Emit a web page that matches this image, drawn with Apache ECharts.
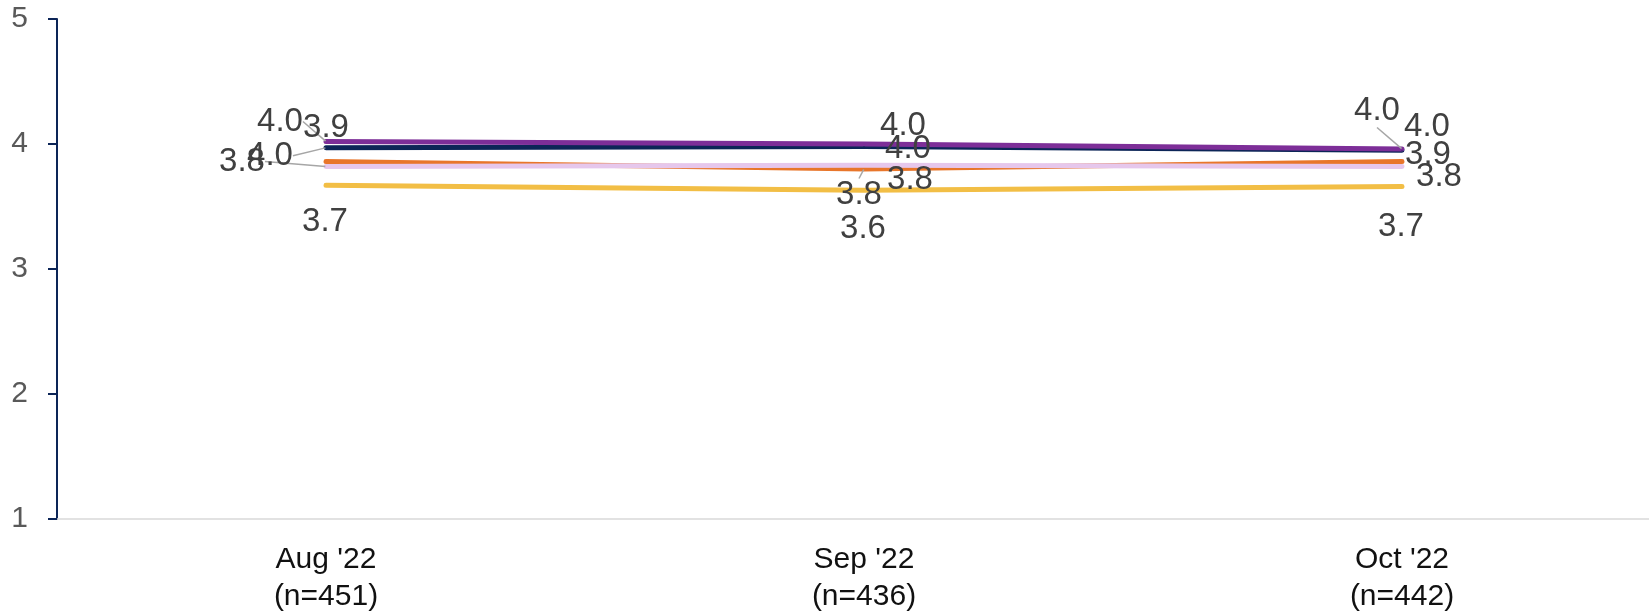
<!DOCTYPE html>
<html><head><meta charset="utf-8">
<script src="https://cdn.jsdelivr.net/npm/echarts@6/dist/echarts.min.js"></script>
<style>html,body{margin:0;padding:0;background:#fff}#c{width:1649px;height:612px}</style>
</head><body><div id="c"></div>
<script>
var categories = ["Aug '22\n(n=451)", "Sep '22\n(n=436)", "Oct '22\n(n=442)"];
var yTicks = [1, 2, 3, 4, 5];
var yellowVals = [3.67, 3.63, 3.66];
var orangeVals = [3.86, 3.80, 3.86];
var pinkVals   = [3.82, 3.83, 3.82];
var navyVals   = [3.97, 3.98, 3.95];
var purpleVals = [4.02, 4.00, 3.96];

// label placement (presentation only)
var styles = [
  {name:'yellow', vals:yellowVals, color:'#F2BE45', off:[[-1,37],[-1,39],[-1,40]], lead:[0,0,0]},
  {name:'orange', vals:orangeVals, color:'#E8762B', off:[[0,-34],[-5,26],[26,-7]], lead:[0,1,0]},
  {name:'pink',   vals:pinkVals,   color:'#E6C7EC', off:[[-84,-5],[46,15],[37,10]], lead:[1,0,0]},
  {name:'navy',   vals:navyVals,   color:'#0C2557', off:[[-56,8],[44,2],[25,-23]], lead:[1,0,0]},
  {name:'purple', vals:purpleVals, color:'#7D2E98', off:[[-46,-20],[39,-18],[-25,-38]], lead:[1,0,1]}
];

var series = styles.map(function(s){
  return {
    type:'line', name:s.name,
    data: s.vals.map(function(v,i){ return {value:v, labelLine:{show: !!s.lead[i]}}; }),
    symbol:'circle', symbolSize:1, showSymbol:true,
    itemStyle:{color:s.color},
    lineStyle:{color:s.color, width:5, cap:'round', join:'round'},
    label:{show:true, position:'inside', formatter:function(p){return (Math.round(p.value*10)/10).toFixed(1);},
      fontFamily:'Liberation Sans, Arial, sans-serif', fontSize:33, color:'#404040'},
    labelLine:{show:false, lineStyle:{color:'#A6A6A6', width:1.5}},
    labelLayout:function(p){ var o=s.off[p.dataIndex]; return {dx:o[0], dy:o[1]}; },
    animation:false
  };
});

var chart = echarts.init(document.getElementById('c'));
chart.setOption({
  animation:false,
  grid:{left:57, width:1614, top:19, bottom:93, containLabel:false, outerBoundsMode:'none'},
  xAxis:{type:'category', data:categories, boundaryGap:true,
    axisLine:{show:true, lineStyle:{color:'#D9D9D9', width:1.5}},
    axisTick:{show:false},
    axisLabel:{fontFamily:'Liberation Sans, Arial, sans-serif', fontSize:30, color:'#111', lineHeight:37, margin:22},
    splitLine:{show:false}},
  yAxis:{type:'value', min:yTicks[0], max:yTicks[yTicks.length-1], interval:1,
    axisLine:{show:true, lineStyle:{color:'#0C2557', width:2}},
    axisTick:{show:true, length:9, lineStyle:{color:'#0C2557', width:2}},
    axisLabel:{fontFamily:'Liberation Sans, Arial, sans-serif', fontSize:30, color:'#595959', margin:29},
    splitLine:{show:false}},
  series:series
});
</script></body></html>
